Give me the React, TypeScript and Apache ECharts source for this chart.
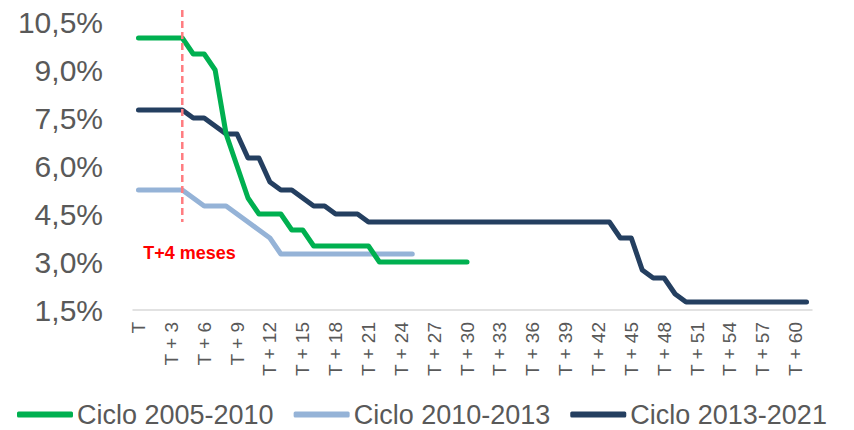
import React, { useEffect, useRef } from "react";
import * as echarts from "echarts";

const categories: string[] = Array.from({ length: 62 }, (_, i) => (i === 0 ? "T" : `T + ${i}`));

const ciclo2005: number[] = [
  10.0, 10.0, 10.0, 10.0, 10.0, 9.5, 9.5, 9.0, 7.0, 6.0,
  5.0, 4.5, 4.5, 4.5, 4.0, 4.0, 3.5, 3.5, 3.5, 3.5,
  3.5, 3.5, 3.0, 3.0, 3.0, 3.0, 3.0, 3.0, 3.0, 3.0,
  3.0,
];

const ciclo2010: number[] = [
  5.25, 5.25, 5.25, 5.25, 5.25, 5.0, 4.75, 4.75, 4.75, 4.5,
  4.25, 4.0, 3.75, 3.25, 3.25, 3.25, 3.25, 3.25, 3.25, 3.25,
  3.25, 3.25, 3.25, 3.25, 3.25, 3.25,
];

const ciclo2013: number[] = [
  7.75, 7.75, 7.75, 7.75, 7.75, 7.5, 7.5, 7.25, 7.0, 7.0,
  6.25, 6.25, 5.5, 5.25, 5.25, 5.0, 4.75, 4.75, 4.5, 4.5,
  4.5, 4.25, 4.25, 4.25, 4.25, 4.25, 4.25, 4.25, 4.25, 4.25,
  4.25, 4.25, 4.25, 4.25, 4.25, 4.25, 4.25, 4.25, 4.25, 4.25,
  4.25, 4.25, 4.25, 4.25, 3.75, 3.75, 2.75, 2.5, 2.5, 2.0,
  1.75, 1.75, 1.75, 1.75, 1.75, 1.75, 1.75, 1.75, 1.75, 1.75,
  1.75, 1.75,
];

const seriesNames = ["Ciclo 2005-2010", "Ciclo 2010-2013", "Ciclo 2013-2021"];
const seriesColors = ["#00B050", "#95B3D7", "#243F60"];

const markerIndex = 4;
const markerTop = 10.875;
const markerBottom = 4.25;
const markerText = "T+4 meses";

const FONT = "'Liberation Sans', Arial, sans-serif";

export default function App() {
  const ref = useRef<HTMLDivElement>(null);

  useEffect(() => {
    if (!ref.current) return;
    const chart = echarts.init(ref.current, undefined, { renderer: "svg" });
    const datasets = [ciclo2005, ciclo2010, ciclo2013];
    const series: any[] = datasets.map((d, k) => ({
      name: seriesNames[k],
      type: "line",
      data: d,
      symbol: "none",
      clip: false,
      lineStyle: { width: 5, color: seriesColors[k], cap: "round", join: "round" },
      itemStyle: { color: seriesColors[k] },
      z: k === 1 ? 2 : k === 0 ? 4 : 3,
    }));
    chart.setOption({
      animation: false,
      textStyle: { fontFamily: FONT },
      grid: { left: 133, right: 42, top: 22, bottom: 120 },
      legend: {
        data: seriesNames,
        left: 12,
        top: 396,
        itemGap: 20,
        itemWidth: 56,
        itemHeight: 6,
        icon: "roundRect",
        textStyle: {
          fontSize: 27,
          color: "#595959",
          fontFamily: FONT,
          padding: [0, 0, 0, -1],
        },
      },
      xAxis: {
        type: "category",
        data: categories,
        boundaryGap: true,
        axisLine: { show: true, lineStyle: { color: "#D9D9D9", width: 1.5 } },
        axisTick: { show: false },
        axisLabel: {
          interval: 2,
          rotate: 90,
          margin: 12,
          fontSize: 19,
          color: "#595959",
          fontFamily: FONT,
        },
        splitLine: { show: false },
      },
      yAxis: {
        type: "value",
        min: 1.5,
        max: 10.5,
        interval: 1.5,
        axisLine: { show: false },
        axisTick: { show: false },
        splitLine: { show: false },
        axisLabel: {
          fontSize: 30,
          color: "#595959",
          margin: 30,
          fontFamily: FONT,
          formatter: (v: number) => v.toFixed(1).replace(".", ",") + "%",
        },
      },
      series,
    });

    const p1 = chart.convertToPixel({ gridIndex: 0 }, [markerIndex, markerTop]) as number[];
    const p2 = chart.convertToPixel({ gridIndex: 0 }, [markerIndex, markerBottom]) as number[];
    chart.setOption({
      graphic: [
        {
          type: "line",
          silent: true,
          z: 10,
          shape: { x1: p1[0], y1: p1[1], x2: p2[0], y2: p2[1] },
          style: { stroke: "#FF7C80", lineWidth: 2.5, lineDash: [7, 4] },
        },
        {
          type: "text",
          x: p2[0] - 39,
          y: p2[1] + 22,
          style: {
            text: markerText,
            fill: "#FF0000",
            font: `bold 18px ${FONT}`,
          },
        },
      ],
    });
    return () => chart.dispose();
  }, []);

  return (
    <div
      ref={ref}
      style={{ position: "fixed", left: 0, top: 0, width: 854, height: 430, background: "#fff" }}
    />
  );
}
